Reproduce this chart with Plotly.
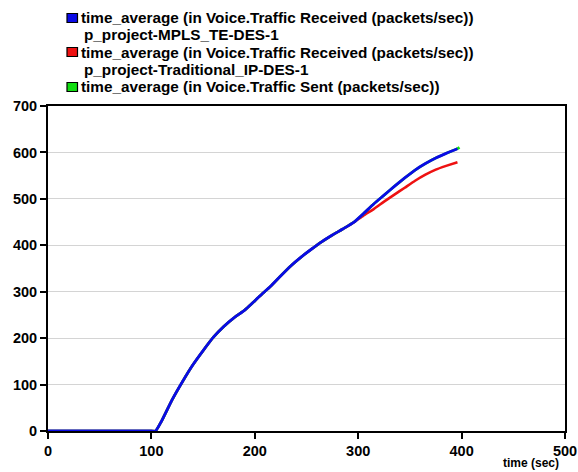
import plotly.graph_objects as go

# ---- data ----
t_common = [0, 50, 100, 104, 110, 120, 130, 140, 150, 160, 170, 180, 190, 197, 205, 215,
            225, 235, 245, 255, 265, 275, 285, 296]
y_common = [0, 0, 0, 0, 22, 67, 106, 142, 173, 202, 225, 244, 260, 274, 291, 311,
            334, 356, 375, 392, 408, 422, 435, 450]

t_tail = [305, 315, 325, 335, 345, 355, 365, 375, 385, 396]
y_mpls_tail = [468, 489, 508, 527, 545, 562, 576, 588, 598, 608]
y_trad_tail = [464, 478, 494, 509, 524, 539, 552, 563, 571, 579]
t_sent_extra = [398]
y_sent_extra = [611]

legend_labels = [
    "time_average (in Voice.Traffic Received (packets/sec))",
    "p_project-MPLS_TE-DES-1",
    "time_average (in Voice.Traffic Received (packets/sec))",
    "p_project-Traditional_IP-DES-1",
    "time_average (in Voice.Traffic Sent (packets/sec))",
]
series_colors = ["#0a0ae6", "#ee1111", "#11dd11"]

x_ticks = [0, 100, 200, 300, 400, 500]
y_ticks = [0, 100, 200, 300, 400, 500, 600, 700]
x_title = "time (sec)"

# ---- layout geometry ----
W, H = 578, 472
ML, MR, MT, MB = 48, 13, 106, 41
PW, PH = W - ML - MR, H - MT - MB


def px(xp):
    return (xp - ML) / PW


def py(yp):
    return (H - MB - yp) / PH


FONT = "Liberation Sans, Arial, sans-serif"

fig = go.Figure()
fig.add_trace(go.Scatter(x=t_common + t_tail, y=y_common + y_trad_tail,
                         mode="lines",
                         line=dict(color=series_colors[1], width=2.6, shape="spline", smoothing=0.5),
                         showlegend=False))
fig.add_trace(go.Scatter(x=t_common + t_tail + t_sent_extra,
                         y=y_common + y_mpls_tail + y_sent_extra,
                         mode="lines",
                         line=dict(color=series_colors[2], width=2.6, shape="spline", smoothing=0.5),
                         showlegend=False))
fig.add_trace(go.Scatter(x=t_common + t_tail, y=y_common + y_mpls_tail,
                         mode="lines",
                         line=dict(color=series_colors[0], width=2.8, shape="spline", smoothing=0.5),
                         showlegend=False))

# custom legend
line_y = [18, 35, 52, 69.5, 87]
square_rows = {0: series_colors[0], 2: series_colors[1], 4: series_colors[2]}
shapes = []
annotations = []
for i, txt in enumerate(legend_labels):
    yc = line_y[i]
    if i in square_rows:
        shapes.append(dict(type="rect", xref="paper", yref="paper",
                           x0=px(67), x1=px(77.5), y0=py(yc + 4.5), y1=py(yc - 4.5),
                           fillcolor=square_rows[i], line=dict(color="black", width=1.2)))
        tx = 79
    else:
        tx = 82
    annotations.append(dict(text=txt, xref="paper", yref="paper", x=px(tx), y=py(yc),
                            xanchor="left", yanchor="middle", showarrow=False,
                            font=dict(family=FONT, size=15.3, color="black", weight="bold")))

annotations.append(dict(text=x_title, xref="paper", yref="paper", x=px(561), y=py(463),
                        xanchor="right", yanchor="middle", showarrow=False,
                        font=dict(family=FONT, size=12, color="black", weight="bold")))

axis_font = dict(family=FONT, size=14.5, color="black", weight="bold")
fig.update_layout(
    width=W, height=H,
    margin=dict(l=ML, r=MR, t=MT, b=MB),
    paper_bgcolor="white", plot_bgcolor="white",
    showlegend=False,
    shapes=shapes, annotations=annotations,
    xaxis=dict(range=[0, 500], tickvals=x_ticks, ticks="outside", ticklen=6,
               tickwidth=1.5, tickcolor="black", showgrid=False, zeroline=False,
               showline=True, linecolor="black", linewidth=2, mirror=True,
               automargin=False, tickfont=axis_font),
    yaxis=dict(range=[0, 700], tickvals=y_ticks, ticks="outside", ticklen=6,
               tickwidth=1.5, tickcolor="black", showgrid=True, gridcolor="#d4d4d4",
               gridwidth=1, zeroline=False,
               showline=True, linecolor="black", linewidth=2, mirror=True,
               automargin=False, tickfont=axis_font),
)

fig.write_html("out.html", config={"displayModeBar": False},
               post_script="document.body.style.margin='0';document.body.style.padding='0';")
